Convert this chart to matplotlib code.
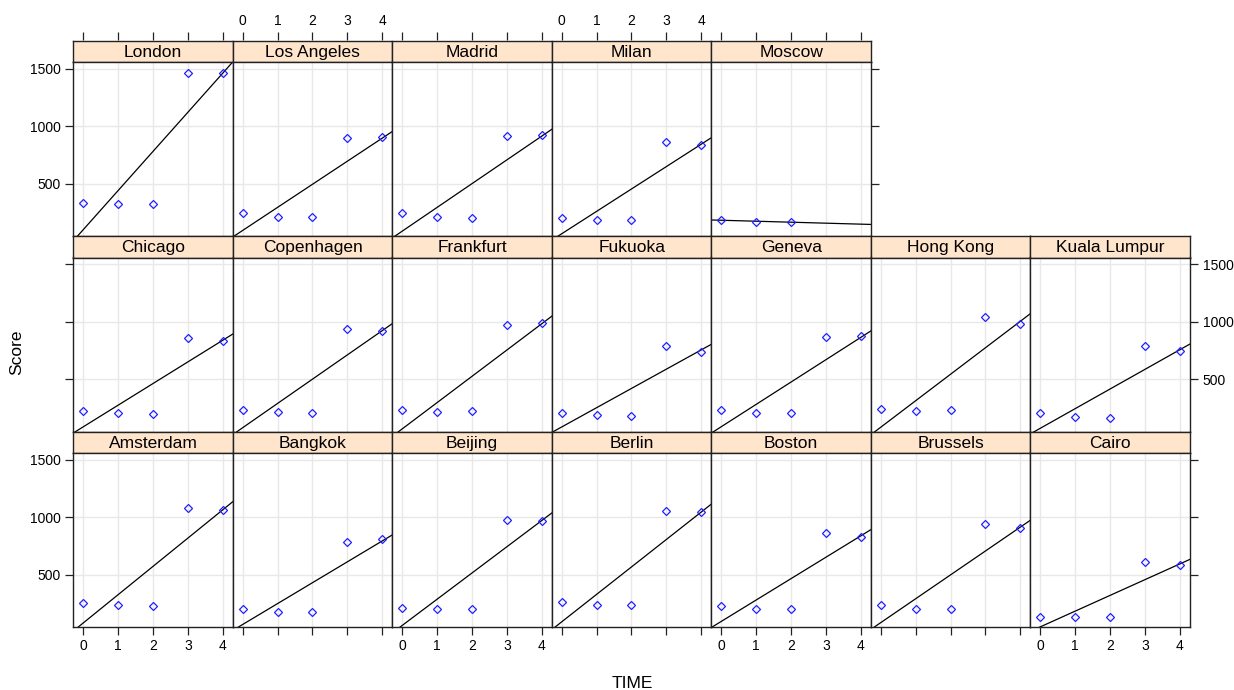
import numpy as np
import matplotlib
matplotlib.use("Agg")
import matplotlib.pyplot as plt

plt.rcParams['font.family'] = ['Liberation Sans Narrow', 'Liberation Sans', 'DejaVu Sans']

# Panel rows, listed top to bottom; each row is filled left to right
rows = [
    ["London", "Los Angeles", "Madrid", "Milan", "Moscow"],
    ["Chicago", "Copenhagen", "Frankfurt", "Fukuoka", "Geneva", "Hong Kong", "Kuala Lumpur"],
    ["Amsterdam", "Bangkok", "Beijing", "Berlin", "Boston", "Brussels", "Cairo"],
]

time_full = [0, 1, 2, 3, 4]
time_short = [0, 1, 2]

score = {
    "London":       [328, 320, 320, 1462, 1462],
    "Los Angeles":  [241, 212, 212, 896, 904],
    "Madrid":       [241, 212, 200, 916, 924],
    "Milan":        [200, 183, 183, 858, 838],
    "Moscow":       [183, 166, 166],
    "Chicago":      [218, 201, 192, 855, 834],
    "Copenhagen":   [227, 209, 201, 933, 922],
    "Frankfurt":    [227, 209, 218, 971, 991],
    "Fukuoka":      [201, 183, 180, 788, 738],
    "Geneva":       [230, 201, 201, 863, 872],
    "Hong Kong":    [238, 218, 230, 1041, 980],
    "Kuala Lumpur": [201, 169, 160, 788, 747],
    "Amsterdam":    [253, 233, 224, 1076, 1064],
    "Bangkok":      [204, 174, 174, 779, 811],
    "Beijing":      [212, 204, 204, 977, 968],
    "Berlin":       [262, 233, 233, 1055, 1047],
    "Boston":       [224, 204, 204, 860, 828],
    "Brussels":     [233, 204, 204, 936, 907],
    "Cairo":        [134, 134, 134, 605, 584],
}

x_ticks = [0, 1, 2, 3, 4]
y_ticks = [500, 1000, 1500]
xlim = (-0.28, 4.29)
ylim = (43, 1558)

W, H = 1234, 690
fig = plt.figure(figsize=(W / 100, H / 100), dpi=100)

col_left = 73.3
col_w = (1190.0 - col_left) / 7
row_top = [40.5, 236.0, 431.5]
strip_h = 21.5
panel_h = 174.0

strip_col = "#FFE5CC"
point_col = "#2020FF"
grid_col = "#E8E8E8"
edge_col = "#222222"
tick_fs = 10
strip_fs = 12.5


def frac(x0, y0, w, h):
    return [x0 / W, 1 - (y0 + h) / H, w / W, h / H]


for r, names in enumerate(rows):
    ncols = len(names)
    for c, name in enumerate(names):
        x0 = col_left + c * col_w
        ys = row_top[r]
        # strip
        sax = fig.add_axes(frac(x0, ys, col_w, strip_h))
        sax.set_facecolor(strip_col)
        sax.set_xticks([])
        sax.set_yticks([])
        for sp in sax.spines.values():
            sp.set_color(edge_col)
            sp.set_linewidth(1.0)
        sax.text(0.5, 0.45, name, ha="center", va="center", fontsize=strip_fs,
                 transform=sax.transAxes)

        # panel
        ax = fig.add_axes(frac(x0, ys + strip_h, col_w, panel_h))
        vals = score[name]
        t = time_full if len(vals) == 5 else time_short
        ax.set_xlim(*xlim)
        ax.set_ylim(*ylim)
        ax.set_xticks(x_ticks)
        ax.set_yticks(y_ticks)
        ax.grid(True, color=grid_col, lw=1.0, zorder=0)
        ax.set_axisbelow(True)
        slope, icpt = np.polyfit(t, vals, 1)
        xx = np.array(xlim)
        ax.plot(xx, icpt + slope * xx, color="black", lw=0.9, zorder=2)
        ax.plot(t, vals, linestyle="none", marker="D", markersize=4.2,
                markerfacecolor="none", markeredgecolor=point_col,
                markeredgewidth=0.9, zorder=3)
        for sp in ax.spines.values():
            sp.set_color(edge_col)
            sp.set_linewidth(1.0)

        # axis decoration following alternating layout
        bottom_ticks = r == 2
        bottom_labels = r == 2 and c % 2 == 0
        top_ticks = r == 0
        top_labels = r == 0 and c % 2 == 1
        left_ticks = c == 0
        left_labels = c == 0 and r != 1
        right_ticks = c == ncols - 1
        right_labels = c == ncols - 1 and r == 1

        ax.tick_params(axis="x", direction="out", length=6, width=0.9,
                       color=edge_col, labelsize=tick_fs, pad=3,
                       bottom=bottom_ticks, labelbottom=bottom_labels,
                       top=top_ticks, labeltop=top_labels)
        ax.tick_params(axis="y", direction="out", length=6, width=0.9,
                       color=edge_col, labelsize=tick_fs, pad=3,
                       left=left_ticks, labelleft=left_labels,
                       right=right_ticks, labelright=right_labels)
        if top_ticks:
            # top ticks sit above the strip
            ax.xaxis.set_tick_params(which="both")
        if r == 0:
            # move top-axis decorations above the strip
            ax.tick_params(axis="x", top=False, labeltop=False)
            sec = sax.secondary_xaxis("top")
            sax.set_xlim(*xlim)
            sec.set_xticks(x_ticks)
            sec.tick_params(direction="out", length=6, width=0.9, color=edge_col,
                            labelsize=tick_fs, pad=3, labeltop=top_labels)
            sec.spines["top"].set_visible(False)
            if not top_labels:
                sec.set_xticklabels([])

fig.text(17 / W, 1 - 352 / H, "Score", rotation=90, ha="center", va="center",
         fontsize=strip_fs)
fig.text(632 / W, 1 - 683 / H, "TIME", ha="center", va="center", fontsize=strip_fs)

fig.savefig("out.png", dpi=100, facecolor="white")
